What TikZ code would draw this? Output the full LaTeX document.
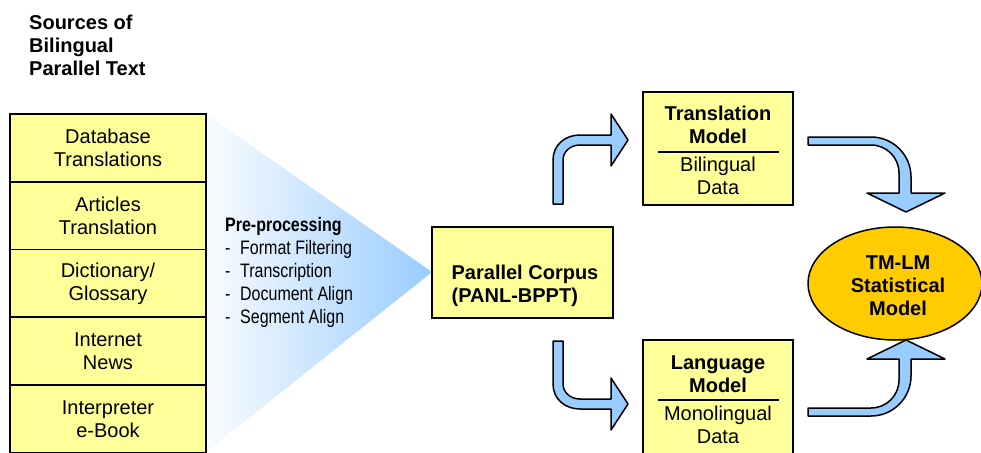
\documentclass[tikz,border=0pt]{standalone}
\usepackage{fontspec}
\setmainfont{Liberation Sans}
\newfontfamily\narrowfont[FakeStretch=0.82]{Liberation Sans}
\usetikzlibrary{shapes.geometric}
\definecolor{boxyellow}{HTML}{FFFF99}
\definecolor{arrowblue}{HTML}{99CCFF}
\definecolor{gold}{HTML}{FFCC00}
\tikzset{
  basefont/.style={font=\fontsize{20}{23}\selectfont},
  srcbox/.style={draw=black, line width=1.5pt, fill=boxyellow, minimum width=196pt, minimum height=68pt, inner sep=0pt, align=center, basefont},
  ybox/.style={draw=black, line width=1.5pt, fill=boxyellow, inner sep=0pt},
  txt/.style={align=center, inner sep=0pt, basefont},
  btxt/.style={align=center, inner sep=0pt, font=\fontsize{20}{23}\selectfont\bfseries},
  blockarrow/.style={draw=black, line width=1.5pt, fill=arrowblue, line join=round},
  rulebar/.style={line width=1.8pt}
}
\begin{document}
\begin{tikzpicture}[x=1pt,y=-1pt]
\useasboundingbox (0,0) rectangle (981,452);
\clip (0,0) rectangle (981,452);
\fill[white] (0,0) rectangle (981,452);

% title
\node[btxt, align=left, anchor=west] (title) at (29,45) {Sources of\\Bilingual\\Parallel Text};

% gradient funnel
\shade[left color=arrowblue!6, right color=arrowblue] (206,114) -- (432,272) -- (206,452) -- cycle;

% source boxes
\node[srcbox] (s1) at (108,148) {Database\\Translations};
\node[srcbox] (s2) at (108,216) {Articles\\Translation};
\node[srcbox] (s3) at (108,283.5) {Dictionary/\\Glossary};
\node[srcbox] (s4) at (108,351) {Internet\\News};
\node[srcbox] (s5) at (108,419) {Interpreter\\e-Book};

% pre-processing text
\node[inner sep=0pt, align=left, anchor=west, font=\fontsize{19.5}{23}\selectfont\narrowfont] (pre) at (225,272)
  {{\bfseries Pre-processing}\\
   \makebox[15pt][l]{-}Format Filtering\\
   \makebox[15pt][l]{-}Transcription\\
   \makebox[15pt][l]{-}Document Align\\
   \makebox[15pt][l]{-}Segment Align};

% parallel corpus
\node[ybox, minimum width=181pt, minimum height=91pt] (pc) at (522.5,272.5) {};
\node[btxt, align=left] (pct) at (525,285.5) {Parallel Corpus\\(PANL-BPPT)};

% translation model
\node[ybox, minimum width=150pt, minimum height=113pt] (tm) at (718,148.5) {};
\node[btxt] (tmt) at (718,125) {Translation\\Model};
\node[txt] (tmd) at (718,176) {Bilingual\\Data};
\draw[rulebar] (658,152) -- (779,152);

% language model
\node[ybox, minimum width=150pt, minimum height=115pt] (lm) at (718,397.5) {};
\node[btxt] (lmt) at (718,374) {Language\\Model};
\node[txt] (lmd) at (718,425) {Monolingual\\Data};
\draw[rulebar] (658,400) -- (779,400);

% statistical model
\node[draw=black, line width=1.5pt, fill=gold, ellipse, minimum width=174pt, minimum height=113pt, inner sep=0pt] (sm) at (895,283.5) {};
\node[btxt] (smt) at (898,286) {TM-LM\\Statistical\\Model};

% block arrows
\draw[blockarrow] (553,204) -- (553,160) .. controls (553,145) and (565,135) .. (580,135)
  -- (611,135) -- (611,114) -- (628,140) -- (611,166) -- (611,145) -- (580,145)
  .. controls (570,145) and (563,152) .. (563,160) -- (563,204) -- cycle;

\draw[blockarrow] (553,341) -- (553,384) .. controls (553,399) and (565,409) .. (580,409)
  -- (611,409) -- (611,430) -- (628,404) -- (611,378) -- (611,399) -- (580,399)
  .. controls (570,399) and (563,392) .. (563,384) -- (563,341) -- cycle;

\draw[blockarrow] (808,137) -- (871,137) .. controls (893.1,137) and (911,154.9) .. (911,177)
  -- (911,193) -- (945,193) -- (906,212) -- (867,193) -- (899,193) -- (899,173)
  .. controls (899,157.5) and (886.5,145) .. (871,145) -- (808,145) -- cycle;

\draw[blockarrow] (808,408) -- (871,408) .. controls (886.5,408) and (899,395.5) .. (899,380)
  -- (899,359) -- (867,359) -- (906,340) -- (945,359) -- (911,359) -- (911,376)
  .. controls (911,397.9) and (893.1,416) .. (871,416) -- (808,416) -- cycle;
\end{tikzpicture}
\end{document}
